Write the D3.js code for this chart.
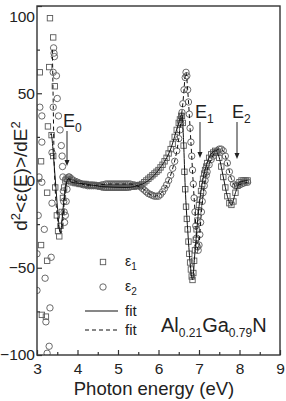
<!DOCTYPE html>
<html>
<head>
<meta charset="utf-8">
<script src="https://cdn.jsdelivr.net/npm/d3@7"></script>
<style>
  body { margin: 0; background: #fff; }
  text { font-family: "Liberation Sans", Arial, sans-serif; fill: #222; }
</style>
</head>
<body>
<div id="chart"></div>
<script>
// tick values
var xTicks = [3, 4, 5, 6, 7, 8, 9];
var yTicks = [-100, -50, 0, 50, 100];

// scattered points at low energy (eps1 squares, eps2 circles)
var eps1Noise = [[3.32, 93], [3.40, 82], [3.07, 62], [3.30, 65], [3.44, 54], [3.27, 31],
  [3.10, 11], [3.25, -7], [3.10, -37], [3.25, -46], [3.12, -77], [3.22, -78]];
var eps2Noise = [[3.41, 76], [3.42, 73], [3.43, 71], [3.40, 62], [3.48, 60], [3.07, 42],
  [3.12, 37], [3.40, 42], [3.12, 22], [3.37, 16], [3.05, 2], [3.12, -1], [3.03, -20],
  [3.37, -13], [3.18, -28], [3.00, -42], [3.35, -44], [3.20, -56], [3.00, -63],
  [3.32, -73], [3.22, -81], [3.30, -95], [3.25, -99]];

// measured second derivative, eps1 (squares)
var eps1Data = [[3.36, 26], [3.40, 14], [3.45, -4], [3.49, -20], [3.52, -29], [3.55, -32],
  [3.58, -26], [3.61, -18], [3.64, -10], [3.67, -4], [3.70, 0], [3.73, 1], [3.76, 1],
  [3.80, 0], [3.85, -1], [3.90, -1], [3.95, -1.5], [4.00, -1.5], [4.05, -2], [4.10, -2],
  [4.15, -2], [4.20, -2], [4.25, -2.5], [4.30, -2.5], [4.35, -2.5], [4.40, -2.5],
  [4.45, -3], [4.50, -3], [4.55, -3.5], [4.60, -3.5], [4.65, -4], [4.70, -4], [4.75, -4],
  [4.80, -4], [4.85, -4], [4.90, -4], [4.95, -4], [5.00, -4], [5.05, -4], [5.10, -4],
  [5.15, -4], [5.20, -4], [5.25, -4], [5.30, -3.5], [5.35, -3.5], [5.40, -3.5], [5.45, -3],
  [5.50, -3], [5.55, -2.5], [5.60, -2], [5.65, -1], [5.70, 0], [5.75, 1], [5.80, 2],
  [5.85, 3], [5.90, 4], [5.95, 5], [6.00, 6], [6.05, 7.5], [6.10, 9], [6.15, 11],
  [6.20, 13], [6.25, 15.5], [6.30, 18], [6.35, 21], [6.40, 25], [6.45, 29], [6.50, 33],
  [6.53, 35], [6.56, 37], [6.58, 37], [6.60, 33], [6.62, 20], [6.64, 5], [6.66, -5],
  [6.68, -15], [6.70, -22], [6.72, -28], [6.74, -35], [6.76, -42], [6.78, -47],
  [6.80, -51], [6.82, -55], [6.84, -57], [6.86, -53], [6.88, -46], [6.90, -40],
  [6.92, -34], [6.94, -28], [6.96, -23], [6.98, -18], [7.00, -14], [7.02, -11],
  [7.05, -6], [7.08, -2], [7.10, 1], [7.13, 4], [7.15, 6], [7.18, 8], [7.20, 10],
  [7.25, 13], [7.30, 15], [7.35, 16], [7.40, 17], [7.45, 16], [7.50, 13], [7.55, 8],
  [7.60, 2], [7.65, -4], [7.70, -9], [7.75, -13], [7.80, -14], [7.85, -12], [7.90, -7],
  [7.95, -3], [8.00, -1], [8.05, 0], [8.10, 0], [8.15, 0], [8.20, 0]];

// measured second derivative, eps2 (circles)
var eps2Data = [[3.50, 47], [3.53, 37], [3.57, 29], [3.60, 20], [3.62, 14], [3.63, 8],
  [3.64, 2], [3.65, -6], [3.66, -12], [3.67, -18], [3.68, -24], [3.70, -20], [3.72, -12],
  [3.74, -5], [3.76, 0], [3.78, 2], [3.80, 2], [3.85, 1], [3.90, 0], [3.95, -0.5],
  [4.00, -1], [4.05, -1.5], [4.10, -2], [4.15, -2.5], [4.20, -2.5], [4.25, -3], [4.30, -3],
  [4.35, -3], [4.40, -3], [4.45, -3], [4.50, -3], [4.55, -3], [4.60, -2.5], [4.65, -2.5],
  [4.70, -2], [4.75, -2], [4.80, -2], [4.85, -2], [4.90, -2], [4.95, -2], [5.00, -2],
  [5.05, -2], [5.10, -2], [5.15, -2], [5.20, -2], [5.25, -2], [5.30, -2], [5.35, -2.5],
  [5.40, -2.5], [5.45, -3], [5.50, -3], [5.55, -3.5], [5.60, -4.5], [5.65, -5.5],
  [5.70, -6.5], [5.75, -7.5], [5.80, -8], [5.85, -8.5], [5.90, -9], [5.95, -9], [6.00, -9],
  [6.05, -8], [6.10, -6.5], [6.15, -4.5], [6.20, -2.5], [6.25, 0], [6.30, 3], [6.35, 7],
  [6.40, 11], [6.45, 17], [6.50, 24], [6.53, 29], [6.55, 33], [6.58, 39], [6.60, 44],
  [6.63, 52], [6.66, 59], [6.68, 62], [6.70, 60], [6.72, 52], [6.74, 45], [6.76, 38],
  [6.78, 30], [6.80, 22], [6.82, 14], [6.84, 6], [6.86, -2], [6.88, -10], [6.90, -18],
  [6.92, -26], [6.94, -33], [6.96, -38], [6.98, -40], [7.00, -37], [7.02, -31],
  [7.04, -24], [7.06, -18], [7.08, -12], [7.10, -7], [7.13, -3], [7.15, 0], [7.18, 3],
  [7.20, 5], [7.25, 9], [7.30, 12], [7.35, 14], [7.40, 16], [7.45, 17], [7.50, 18],
  [7.55, 18], [7.60, 17], [7.65, 14], [7.70, 10], [7.75, 5], [7.80, 1], [7.85, -2],
  [7.90, -3], [7.95, -3], [8.00, -2.5], [8.05, -2], [8.10, -1.5], [8.15, -1], [8.20, -1]];

// model fits
var fit1 = [[3.33, 26], [3.35, 27], [3.37, 24], [3.42, 10], [3.47, -5], [3.52, -20],
  [3.56, -29], [3.58, -30], [3.62, -22], [3.67, -10], [3.72, -2], [3.78, 1], [3.85, -1],
  [4.2, -2], [4.6, -3.5], [5.2, -4], [5.6, -2], [6.0, 6], [6.3, 18], [6.5, 33],
  [6.58, 38], [6.62, 22], [6.66, -4], [6.72, -28], [6.78, -47], [6.84, -57],
  [6.90, -41], [7.00, -15], [7.10, 1], [7.20, 10], [7.40, 17], [7.50, 13], [7.60, 2],
  [7.70, -9], [7.80, -14], [7.90, -7], [8.00, -1], [8.20, 0]];
var fit2 = [[3.38, 75], [3.40, 45], [3.42, 15], [3.45, -5], [3.50, -20], [3.55, -28],
  [3.60, -30], [3.64, -22], [3.68, -10], [3.72, -2], [3.78, 1], [3.90, 0], [4.3, -3],
  [4.8, -2], [5.3, -2], [5.6, -4.5], [5.9, -9], [6.1, -6.5], [6.3, 3], [6.5, 24],
  [6.6, 44], [6.68, 62], [6.72, 52], [6.80, 22], [6.88, -10], [6.98, -40], [7.06, -18],
  [7.15, 0], [7.30, 12], [7.50, 18], [7.60, 17], [7.70, 10], [7.80, 1], [7.90, -3],
  [8.05, -2], [8.20, -1]];

var width = 286, height = 401;
var svg = d3.select("#chart").append("svg")
  .attr("width", width).attr("height", height);

var x = d3.scaleLinear().domain([3, 9]).range([37, 280]);
var y = d3.scaleLinear().domain([-100, 100]).range([355, 6]);

var plot = svg.append("g");
plot.append("clipPath").attr("id", "clip")
  .append("rect").attr("x", 37).attr("y", 6).attr("width", 243).attr("height", 349);
var inner = plot.append("g").attr("clip-path", "url(#clip)");

var markColor = "#5a5a5a";

function squares(g, data) {
  g.selectAll(null).data(data).enter().append("rect")
    .attr("x", function(d) { return x(d[0]) - 2.7; })
    .attr("y", function(d) { return y(d[1]) - 2.7; })
    .attr("width", 5.4).attr("height", 5.4)
    .attr("fill", "none").attr("stroke", markColor).attr("stroke-width", 0.9);
}
function circles(g, data) {
  g.selectAll(null).data(data).enter().append("circle")
    .attr("cx", function(d) { return x(d[0]); })
    .attr("cy", function(d) { return y(d[1]); })
    .attr("r", 3.2)
    .attr("fill", "none").attr("stroke", markColor).attr("stroke-width", 0.9);
}

squares(inner, eps1Noise);
circles(inner, eps2Noise);
squares(inner, eps1Data);
circles(inner, eps2Data);

var line = d3.line()
  .x(function(d) { return x(d[0]); })
  .y(function(d) { return y(d[1]); })
  .curve(d3.curveMonotoneX);

inner.append("path").datum(fit1).attr("d", line)
  .attr("fill", "none").attr("stroke", "#111").attr("stroke-width", 1);
inner.append("path").datum(fit2).attr("d", line)
  .attr("fill", "none").attr("stroke", "#111").attr("stroke-width", 1)
  .attr("stroke-dasharray", "4,3");

// frame
plot.append("rect").attr("x", 37).attr("y", 6).attr("width", 243).attr("height", 349)
  .attr("fill", "none").attr("stroke", "#333").attr("stroke-width", 1.4);

// ticks inside the frame
var xAxis = d3.axisBottom(x).tickValues(xTicks).tickSize(-5).tickPadding(8)
  .tickFormat(d3.format("d"));
var xMinor = d3.axisBottom(x).tickValues(d3.range(3.5, 9, 1)).tickSize(-3).tickFormat("");
var yAxis = d3.axisLeft(y).tickValues(yTicks).tickSize(-5).tickPadding(2);
var yMinor = d3.axisLeft(y).tickValues([-75, -25, 25, 75]).tickSize(-3).tickFormat("");

function styleAxis(g) {
  g.select(".domain").remove();
  g.selectAll("line").attr("stroke", "#333").attr("stroke-width", 1.2);
  g.selectAll("text").attr("font-size", 15.5).attr("fill", "#222")
    .attr("font-family", "Liberation Sans, Arial, sans-serif");
}
svg.append("g").attr("transform", "translate(0,355)").call(xAxis).call(styleAxis);
svg.append("g").attr("transform", "translate(0,355)").call(xMinor).call(styleAxis);
var yg = svg.append("g").attr("transform", "translate(37,0)").call(yAxis).call(styleAxis);
svg.append("g").attr("transform", "translate(37,0)").call(yMinor).call(styleAxis);
// top label sits a little lower than its tick, as in the original figure
yg.selectAll(".tick text").filter(function(d) { return d === 100; }).attr("dy", "1.0em");

// axis titles
svg.append("text").attr("x", 154).attr("y", 395).attr("text-anchor", "middle")
  .attr("font-size", 18.5).text("Photon energy (eV)");

var yt = svg.append("text").attr("transform", "translate(27,176) rotate(-90)")
  .attr("text-anchor", "middle").attr("font-size", 19);
yt.append("tspan").text("d");
yt.append("tspan").attr("font-size", 13).attr("dy", -7).text("2");
yt.append("tspan").attr("dy", 7).text("<ε(E)>/dE");
yt.append("tspan").attr("font-size", 13).attr("dy", -7).text("2");

// transition labels and arrows
var marks = [
  {name: "E", sub: "0", tx: 63, ty: 127, ax: 67, a0: 131, a1: 166},
  {name: "E", sub: "1", tx: 195, ty: 118, ax: 200, a0: 122, a1: 158},
  {name: "E", sub: "2", tx: 232, ty: 118, ax: 237, a0: 122, a1: 159}
];
marks.forEach(function(m) {
  var t = svg.append("text").attr("x", m.tx).attr("y", m.ty).attr("font-size", 18);
  t.append("tspan").text(m.name);
  t.append("tspan").attr("font-size", 12).attr("dy", 5).text(m.sub);
  svg.append("line").attr("x1", m.ax).attr("x2", m.ax).attr("y1", m.a0).attr("y2", m.a1 - 5)
    .attr("stroke", "#222").attr("stroke-width", 1);
  svg.append("path")
    .attr("d", "M" + (m.ax - 2.5) + "," + (m.a1 - 6) + "L" + (m.ax + 2.5) + "," + (m.a1 - 6) +
      "L" + m.ax + "," + m.a1 + "Z")
    .attr("fill", "#222");
});

// legend
var lg = svg.append("g");
squares(lg, [[x.invert(103), y.invert(262)]]);
circles(lg, [[x.invert(103), y.invert(287)]]);
var l1 = lg.append("text").attr("x", 125).attr("y", 266).attr("font-size", 14);
l1.append("tspan").text("ε");
l1.append("tspan").attr("font-size", 10).attr("dy", 4).text("1");
var l2 = lg.append("text").attr("x", 125).attr("y", 291).attr("font-size", 14);
l2.append("tspan").text("ε");
l2.append("tspan").attr("font-size", 10).attr("dy", 4).text("2");
lg.append("line").attr("x1", 85).attr("x2", 118).attr("y1", 311).attr("y2", 311)
  .attr("stroke", "#111").attr("stroke-width", 1.2);
lg.append("line").attr("x1", 85).attr("x2", 118).attr("y1", 330).attr("y2", 330)
  .attr("stroke", "#111").attr("stroke-width", 1.2).attr("stroke-dasharray", "4,3");
lg.append("text").attr("x", 125).attr("y", 316).attr("font-size", 15).text("fit");
lg.append("text").attr("x", 125).attr("y", 335).attr("font-size", 15).text("fit");

// sample label
var al = svg.append("text").attr("x", 161).attr("y", 332).attr("font-size", 20);
al.append("tspan").text("Al");
al.append("tspan").attr("font-size", 12).attr("dy", 5).text("0.21");
al.append("tspan").attr("dy", -5).text("Ga");
al.append("tspan").attr("font-size", 12).attr("dy", 5).text("0.79");
al.append("tspan").attr("dy", -5).text("N");
</script>
</body>
</html>
